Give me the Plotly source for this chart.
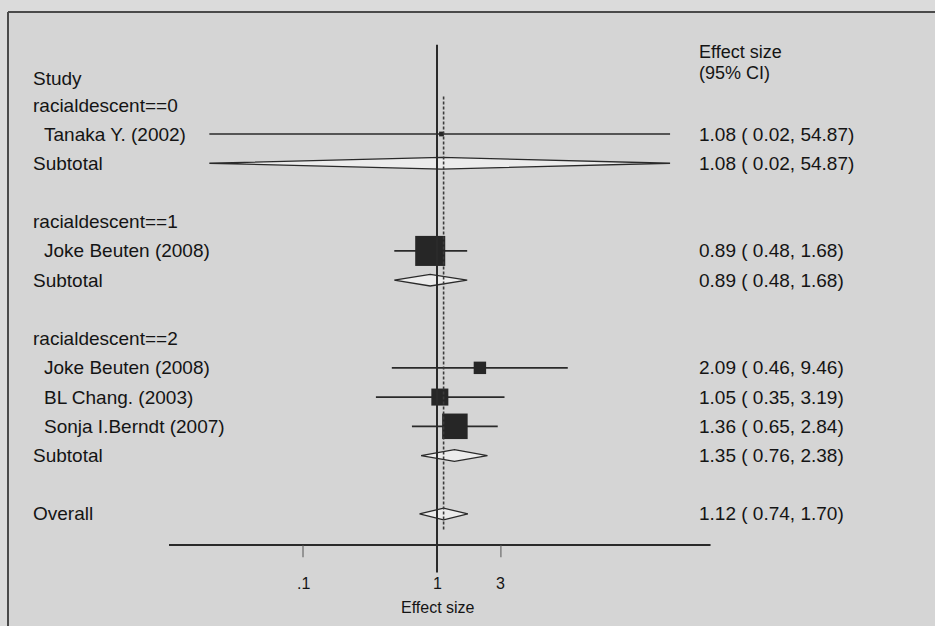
import numpy as np
import plotly.graph_objects as go

# ---- data -------------------------------------------------------------
row_labels = ["Tanaka Y. (2002)", "Subtotal", "",
              "racialdescent==1", "Joke Beuten (2008)", "Subtotal", "",
              "racialdescent==2", "Joke Beuten (2008)", "BL Chang. (2003)",
              "Sonja I.Berndt (2007)", "Subtotal", "", "Overall"]
row_kind = ["study", "sub", "blank",
            "group", "study", "sub", "blank",
            "group", "study", "study", "study", "sub", "blank", "sub"]
row_es = [1.08, 1.08, None, None, 0.89, 0.89, None, None,
          2.09, 1.05, 1.36, 1.35, None, 1.12]
row_lo = [0.02, 0.02, None, None, 0.48, 0.48, None, None,
          0.46, 0.35, 0.65, 0.76, None, 0.74]
row_hi = [54.87, 54.87, None, None, 1.68, 1.68, None, None,
          9.46, 3.19, 2.84, 2.38, None, 1.70]
first_group = "racialdescent==0"
overall_es = 1.12
tick_vals = [0.1, 1, 3]
tick_text = [".1", "1", "3"]
axis_span = [0.01, 110]

# ---- look -------------------------------------------------------------
W, H = 935, 626
FONT = "Liberation Sans, Arial, Helvetica, sans-serif"
INK = "#141414"
LINE = "#2a2a2a"
FS = 19

# pixel geometry of the log axis: x=1 at 437 px, 134 px per decade
x0_px, dec_px = 437.0, 134.0
# rows: first study row at 134 px, 29.23 px per row
r0_px, row_px = 134.0, 29.23

xr = [(0 - x0_px) / dec_px, (W - x0_px) / dec_px]
yr = [(H - r0_px) / row_px, (0 - r0_px) / row_px]


def px_x(p):
    return p / W


def px_y(p):
    return 1 - p / H


fig = go.Figure()

# diamonds for pooled estimates
diam_h = 0.2
for i, k in enumerate(row_kind):
    if k != "sub":
        continue
    lo, es, hi = row_lo[i], row_es[i], row_hi[i]
    fig.add_trace(go.Scatter(
        x=[lo, es, hi, es, lo], y=[i, i - diam_h, i, i + diam_h, i],
        mode="lines", fill="toself", fillcolor="#ececec",
        line=dict(color=LINE, width=1.3), hoverinfo="skip", showlegend=False))

# confidence intervals and weighted boxes for single studies
study_idx = [i for i, k in enumerate(row_kind) if k == "study"]
for i in study_idx:
    fig.add_trace(go.Scatter(
        x=[row_lo[i], row_hi[i]], y=[i, i], mode="lines",
        line=dict(color=LINE, width=1.7), hoverinfo="skip", showlegend=False))

# inverse-variance weights from the CI width on the log scale
se = np.array([(np.log(row_hi[i]) - np.log(row_lo[i])) / (2 * 1.96)
               for i in study_idx])
w = 1 / se ** 2
box = 9.6 * np.sqrt(w)
fig.add_trace(go.Scatter(
    x=[row_es[i] for i in study_idx], y=study_idx, mode="markers",
    marker=dict(symbol="square", size=box, color="#262626", opacity=1,
                line=dict(width=0)),
    opacity=1, hoverinfo="skip", showlegend=False))

# ---- reference lines and axis ----------------------------------------
shapes = []
# frame background and border
shapes.append(dict(type="rect", xref="paper", yref="paper",
                   x0=px_x(8), x1=px_x(W + 5), y0=px_y(H + 5), y1=px_y(12),
                   fillcolor="#d5d5d5", line=dict(width=0), layer="below"))
shapes.append(dict(type="line", xref="paper", yref="paper",
                   x0=px_x(8), x1=px_x(W + 5), y0=px_y(12), y1=px_y(12),
                   line=dict(color="#4a4a4a", width=2)))
shapes.append(dict(type="line", xref="paper", yref="paper",
                   x0=px_x(8), x1=px_x(8), y0=px_y(12), y1=px_y(H + 5),
                   line=dict(color="#4a4a4a", width=2)))

n_rows = len(row_labels)
axis_row = 14.06
# null line at 1
shapes.append(dict(type="line", xref="x", yref="y", x0=1, x1=1,
                   y0=-3.05, y1=15.0, line=dict(color=LINE, width=2)))
# overall estimate (dashed)
shapes.append(dict(type="line", xref="x", yref="y", x0=overall_es,
                   x1=overall_es, y0=-1.28, y1=n_rows - 0.45,
                   line=dict(color="#3a3a3a", width=1.6, dash="3px,2px")))
# x axis line and ticks
shapes.append(dict(type="line", xref="x", yref="y", x0=axis_span[0],
                   x1=axis_span[1], y0=axis_row, y1=axis_row,
                   line=dict(color=LINE, width=2)))
for t in tick_vals:
    if t == 1:
        continue
    shapes.append(dict(type="line", xref="x", yref="y", x0=t, x1=t,
                       y0=axis_row, y1=axis_row + 0.42,
                       line=dict(color="#555555", width=1)))

# ---- text -------------------------------------------------------------
ann = []


def txt(x, y, s, xref="paper", xanchor="left", size=FS):
    ann.append(dict(x=x, y=y, xref=xref, yref="y", text=s, showarrow=False,
                    xanchor=xanchor, yanchor="middle",
                    font=dict(family=FONT, size=size, color=INK)))


txt(px_x(31), -1.9, "Study")
txt(px_x(31), -0.98, first_group)
for i, (lab, k) in enumerate(zip(row_labels, row_kind)):
    if k == "blank":
        continue
    xpos = 42 if k == "study" else 31
    txt(px_x(xpos), i, lab)
    if row_es[i] is not None:
        txt(px_x(697), i, f"{row_es[i]:.2f} ( {row_lo[i]:.2f}, {row_hi[i]:.2f})")

txt(px_x(697), -2.8, "Effect size", size=FS - 1)
txt(px_x(697), -2.08, "(95% CI)", size=FS - 1)

# annotations on a log axis take log10 positions
for t, s in zip(tick_vals, tick_text):
    txt(np.log10(t), 15.38, s, xref="x", xanchor="center", size=16)
txt(np.log10(1.02), 16.2, "Effect size", xref="x", xanchor="center",
    size=16)

fig.update_layout(
    width=W, height=H, margin=dict(l=0, r=0, t=0, b=0),
    paper_bgcolor="#dbdbdb", plot_bgcolor="rgba(0,0,0,0)",
    shapes=shapes, annotations=ann, showlegend=False,
    xaxis=dict(type="log", range=xr, visible=False, fixedrange=True),
    yaxis=dict(range=yr, visible=False, fixedrange=True),
)

fig.write_html("out.html")
